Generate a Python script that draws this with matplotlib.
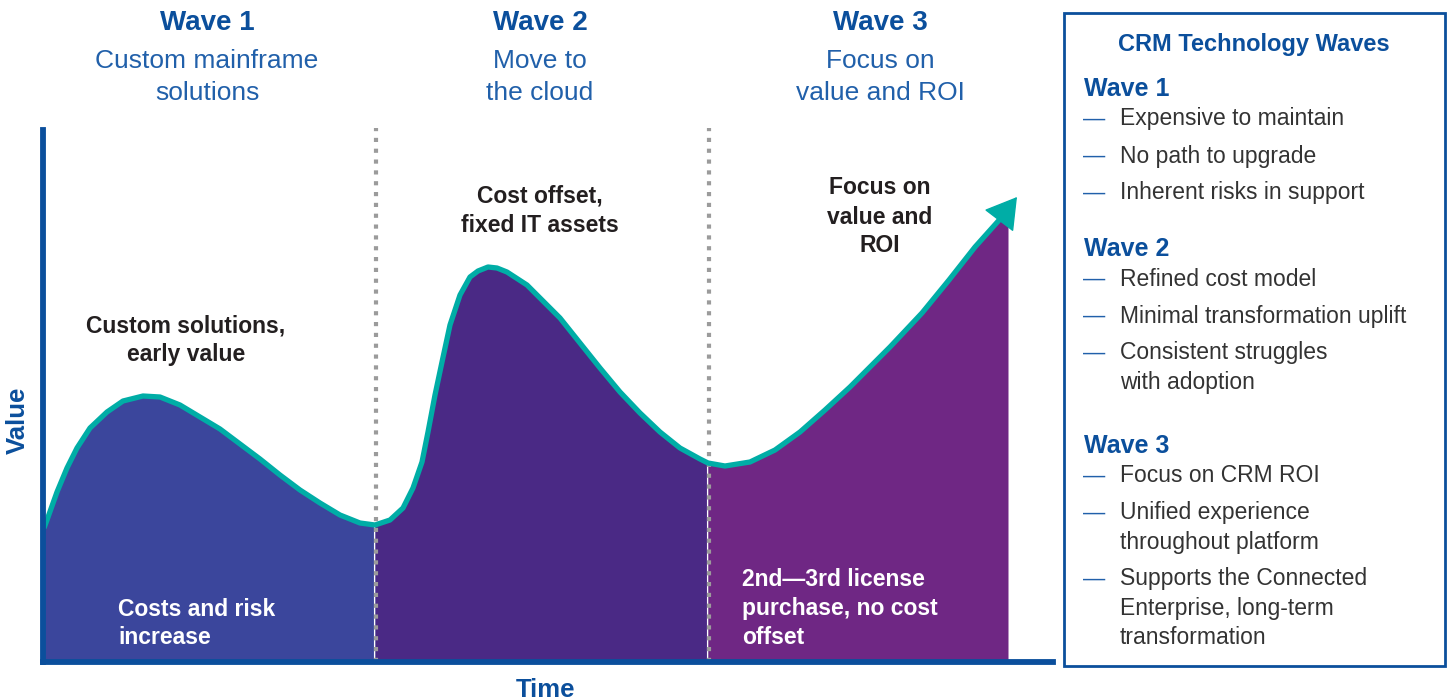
"""CRM technology waves: value over time, with a side panel of notes."""

import matplotlib
matplotlib.use("Agg")
import matplotlib.pyplot as plt
from matplotlib.patches import Rectangle
import numpy as np

# curve (time, value), arbitrary units
TIME = [1, 4, 14, 24, 34, 47, 64, 80, 100, 117, 137, 157, 177, 197, 217, 237,
        257, 277, 297, 317, 332, 347, 360, 370, 379, 385, 392, 399, 407, 417,
        427, 435, 445, 454, 464, 484, 497, 517, 537, 557, 577, 597, 617, 637,
        657, 665, 682, 707, 732, 757, 782, 807, 832, 847, 879, 906, 932, 958,
        965]
VALUE = [134, 142, 170, 194, 214, 234, 250, 261, 266, 265, 257, 245, 233, 218,
         203, 187, 172, 159, 147, 139, 137, 142, 154, 174, 200, 230, 267, 300,
         337, 367, 385, 391, 395, 394, 390, 377, 364, 344, 319, 294, 270, 249,
         230, 214, 203, 199, 196, 200, 212, 230, 252, 275, 300, 315, 349, 382,
         415, 444, 452]
ARROW_BASE = (958, 444)
ARROW_TIP = (974, 465)

PHASE_EDGES = [0, 332, 665, 965]
WAVE_TITLES = ["Wave 1", "Wave 2", "Wave 3"]
WAVE_SUBTITLES = [["Custom mainframe", "solutions"],
                  ["Move to", "the cloud"],
                  ["Focus on", "value and ROI"]]
TOP_NOTES = [["Custom solutions,", "early value"],
             ["Cost offset,", "fixed IT assets"],
             ["Focus on", "value and", "ROI"]]
LOW_NOTES = [["Costs and risk", "increase"],
             [],
             ["2nd\u20143rd license", "purchase, no cost", "offset"]]

PANEL_TITLE = "CRM Technology Waves"
PANEL_ITEMS = [
    ["Expensive to maintain", "No path to upgrade", "Inherent risks in support"],
    ["Refined cost model", "Minimal transformation uplift",
     "Consistent struggles\nwith adoption"],
    ["Focus on CRM ROI", "Unified experience\nthroughout platform",
     "Supports the Connected\nEnterprise, long-term\ntransformation"],
]

BLUE = "#0b4f9c"
SUB_BLUE = "#2160aa"
TEAL = "#00ada6"
FILLS = ["#3b469c", "#4a2985", "#6f2784"]
GREY_TXT = "#333333"

plt.rcParams["font.family"] = ["Liberation Sans", "DejaVu Sans"]

W, H = 1449, 700
fig = plt.figure(figsize=(W / 100, H / 100), dpi=100)

# chart axes: left edge at x=43px, bottom at y=662px
ax = fig.add_axes([43 / W, (H - 662) / H, 1010 / W, 532 / H])
ax.set_xlim(0, 1010)
ax.set_ylim(0, 532)
ax.set_xticks([])
ax.set_yticks([])
for side in ["top", "right"]:
    ax.spines[side].set_visible(False)
for side in ["left", "bottom"]:
    ax.spines[side].set_color(BLUE)
    ax.spines[side].set_linewidth(4.2)
    ax.spines[side].set_zorder(6)

t = np.array(TIME)
v = np.array(VALUE)
for i, col in enumerate(FILLS):
    lo, hi = PHASE_EDGES[i], PHASE_EDGES[i + 1]
    m = (t >= lo) & (t <= hi)
    ax.fill_between(t[m], 0, v[m], color=col, lw=0, zorder=1)

# phase separators
for edge in PHASE_EDGES[1:3]:
    ax.plot([edge - 1, edge - 1], [0, np.interp(edge, t, v)], color="white",
            lw=0.8, zorder=2)
    ax.plot([edge + 1, edge + 1], [0, 534], color="#9b9b9b", lw=3,
            dashes=(1, 1.6), solid_capstyle="butt", dash_capstyle="butt",
            zorder=3, clip_on=False)

ax.plot(t, v, color=TEAL, lw=3.8, solid_capstyle="butt",
        solid_joinstyle="round", zorder=4, clip_on=False)
ax.annotate("", xy=ARROW_TIP, xytext=ARROW_BASE,
            arrowprops=dict(arrowstyle="-|>,head_length=1.0,head_width=0.6",
                            color=TEAL, lw=1, shrinkA=0, shrinkB=0,
                            mutation_scale=20),
            zorder=5, annotation_clip=False)

# overlay in pixel coordinates for all text and the side panel
ov = fig.add_axes([0, 0, 1, 1], facecolor="none")
ov.set_xlim(0, W)
ov.set_ylim(H, 0)
ov.axis("off")

head_x = [207, 540, 880]
for i in range(3):
    ov.text(head_x[i], 23, WAVE_TITLES[i], ha="center", va="center",
            fontsize=20, fontweight="bold", color=BLUE)
    for j, line in enumerate(WAVE_SUBTITLES[i]):
        ov.text(head_x[i], 61 + 32 * j, line, ha="center", va="center",
                fontsize=19, color=SUB_BLUE)

note_x = [186, 540, 880]
note_y = [326, 196, 188]
for i in range(3):
    for j, line in enumerate(TOP_NOTES[i]):
        ov.text(note_x[i], note_y[i] + 29 * j, line, ha="center", va="center",
                fontsize=16.5, fontweight="bold", color="#231f20")

low_x = [118, 0, 742]
low_y = [609, 0, 580]
for i in range(3):
    for j, line in enumerate(LOW_NOTES[i]):
        ov.text(low_x[i], low_y[i] + 29 * j, line, ha="left", va="center",
                fontsize=16.5, fontweight="bold", color="white", zorder=6)

ov.text(545, 690, "Time", ha="center", va="center", fontsize=18.5,
        fontweight="bold", color=BLUE)
ov.text(18, 420, "Value", ha="center", va="center", fontsize=18.5,
        fontweight="bold", color=BLUE, rotation=90)

# side panel
ov.add_patch(Rectangle((1064, 13), 381, 653, fill=False, edgecolor=BLUE,
                       lw=2))
ov.text(1254, 45, PANEL_TITLE, ha="center", va="center", fontsize=17,
        fontweight="bold", color=BLUE)
wave_y = [89, 249, 446]
for i in range(3):
    ov.text(1084, wave_y[i], WAVE_TITLES[i], ha="left", va="center",
            fontsize=18, fontweight="bold", color=BLUE)
    y = wave_y[i] + 30
    for item in PANEL_ITEMS[i]:
        ov.text(1083, y, "\u2014", ha="left", va="center", fontsize=16,
                color=SUB_BLUE)
        for k, line in enumerate(item.split("\n")):
            ov.text(1120, y + 29 * k, line, ha="left", va="center",
                    fontsize=16.5, color=GREY_TXT)
        y += 29 * (len(item.split("\n")) - 1) + 37

fig.savefig("out.png", dpi=100)
